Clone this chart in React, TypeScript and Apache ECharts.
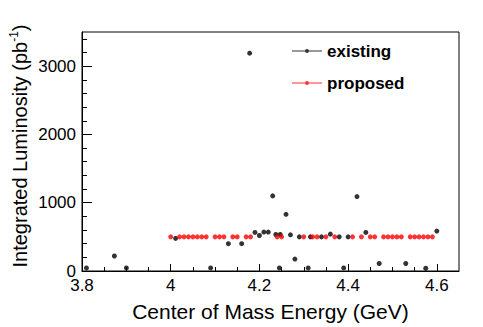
import React, { useEffect, useRef } from "react";
import * as echarts from "echarts";

const existingEnergy = [3.81, 3.873, 3.9, 4.011, 4.09, 4.13, 4.16, 4.178, 4.19, 4.2, 4.21, 4.22, 4.23, 4.237, 4.245, 4.247, 4.26, 4.27, 4.28, 4.29, 4.31, 4.315, 4.34, 4.36, 4.38, 4.39, 4.4, 4.42, 4.44, 4.47, 4.53, 4.575, 4.6];
const existingLumi = [45, 220, 45, 478, 45, 400, 400, 3190, 565, 520, 570, 570, 1100, 535, 45, 535, 830, 530, 175, 500, 45, 500, 500, 540, 500, 45, 500, 1090, 565, 110, 110, 40, 585];

const proposedEnergy = [4.0, 4.02, 4.03, 4.04, 4.05, 4.06, 4.07, 4.08, 4.1, 4.11, 4.12, 4.14, 4.15, 4.17, 4.18, 4.24, 4.25, 4.3, 4.32, 4.33, 4.35, 4.37, 4.41, 4.43, 4.45, 4.46, 4.48, 4.49, 4.5, 4.51, 4.52, 4.54, 4.55, 4.56, 4.57, 4.58, 4.59];
const proposedLumi = [500, 500, 500, 500, 500, 500, 500, 500, 500, 500, 500, 500, 500, 500, 500, 500, 500, 500, 500, 500, 500, 500, 500, 500, 500, 500, 500, 500, 500, 500, 500, 500, 500, 500, 500, 500, 500];

const xMajorTicks = [3.8, 4.0, 4.2, 4.4, 4.6];
const xMinorTicks = [3.85, 3.9, 3.95, 4.05, 4.1, 4.15, 4.25, 4.3, 4.35, 4.45, 4.5, 4.55];
const yMajorTicks = [0, 1000, 2000, 3000];
const yMinorTicks = [200, 400, 600, 800, 1200, 1400, 1600, 1800, 2200, 2400, 2600, 2800, 3200, 3400];

const seriesNames = ["existing", "proposed"];
const xTitle = "Center of Mass Energy (GeV)";

const FONT = "'Liberation Sans', Arial, Helvetica, sans-serif";
const X_MIN = 3.8;
const X_MAX = 4.65;
const Y_MIN = 0;
const Y_MAX = 3500;

export default function App() {
  const ref = useRef<HTMLDivElement>(null);
  useEffect(() => {
    if (!ref.current) return;
    const chart = echarts.init(ref.current, undefined, { renderer: "svg" });
    const legendIcon = "path://M0,1.5 H30 V2.5 H0 Z M13,2 A2,2 0 1 1 17,2 A2,2 0 1 1 13,2 Z";
    chart.setOption({
      animation: false,
      backgroundColor: "#fff",
      textStyle: { fontFamily: FONT },
      grid: {
        left: 82,
        right: 24,
        top: 32,
        bottom: 56,
        show: true,
        borderColor: "#000",
        borderWidth: 1,
        containLabel: false,
        outerBoundsMode: "none",
      },
      legend: {
        data: seriesNames,
        orient: "vertical",
        left: 292,
        top: 41,
        padding: 0,
        itemWidth: 30,
        itemHeight: 4,
        itemGap: 12,
        icon: legendIcon,
        textStyle: { fontSize: 17, fontWeight: "bold", color: "#000", lineHeight: 20, fontFamily: FONT },
      },
      xAxis: [
        {
          type: "value",
          min: X_MIN,
          max: X_MAX,
          position: "bottom",
          axisLine: { show: true, onZero: false, lineStyle: { color: "#000", width: 1 } },
          axisTick: { show: true, inside: true, length: 7, customValues: xMajorTicks, lineStyle: { color: "#000" } },
          axisLabel: {
            customValues: xMajorTicks,
            formatter: (v: number) => String(Math.round(v * 10) / 10),
            fontSize: 17,
            color: "#000",
            margin: 6,
            fontFamily: FONT,
          },
          splitLine: { show: false },
          name: xTitle,
          nameLocation: "middle",
          nameGap: 30,
          nameMoveOverlap: false,
          nameTextStyle: { fontSize: 21, color: "#000", fontFamily: FONT },
        },
        {
          type: "value",
          min: X_MIN,
          max: X_MAX,
          position: "bottom",
          offset: 0,
          axisLine: { show: false, onZero: false },
          axisTick: { show: true, inside: true, length: 4, customValues: xMinorTicks, lineStyle: { color: "#000" } },
          axisLabel: { show: false },
          splitLine: { show: false },
        },
      ],
      yAxis: [
        {
          type: "value",
          min: Y_MIN,
          max: Y_MAX,
          position: "left",
          axisLine: { show: true, onZero: false, lineStyle: { color: "#000", width: 1 } },
          axisTick: { show: true, inside: true, length: 10, customValues: yMajorTicks, lineStyle: { color: "#000" } },
          axisLabel: {
            customValues: yMajorTicks,
            formatter: (v: number) => String(Math.round(v)),
            fontSize: 17,
            color: "#000",
            margin: 6,
            fontFamily: FONT,
          },
          splitLine: { show: false },
          name: "Integrated Luminosity (pb{sup|-1})",
          nameLocation: "middle",
          nameGap: 50,
          nameMoveOverlap: false,
          nameTextStyle: {
            fontSize: 20,
            lineHeight: 24,
            color: "#000",
            fontFamily: FONT,
            padding: [0, 0, 0, 11],
            rich: {
              sup: { fontSize: 12, lineHeight: 12, verticalAlign: "top", color: "#000", fontFamily: FONT },
            },
          },
        },
        {
          type: "value",
          min: Y_MIN,
          max: Y_MAX,
          position: "left",
          offset: 0,
          axisLine: { show: false, onZero: false },
          axisTick: { show: true, inside: true, length: 5, customValues: yMinorTicks, lineStyle: { color: "#000" } },
          axisLabel: { show: false },
          splitLine: { show: false },
        },
      ],
      series: [
        {
          name: seriesNames[0],
          type: "scatter",
          xAxisIndex: 0,
          yAxisIndex: 0,
          symbol: "circle",
          symbolSize: 5,
          itemStyle: { color: "#000" },
          data: existingEnergy.map((e, i) => [e, existingLumi[i]]),
        },
        {
          name: seriesNames[1],
          type: "scatter",
          xAxisIndex: 0,
          yAxisIndex: 0,
          symbol: "circle",
          symbolSize: 5,
          itemStyle: { color: "#ff0000" },
          data: proposedEnergy.map((e, i) => [e, proposedLumi[i]]),
        },
      ],
    });
    return () => chart.dispose();
  }, []);
  return (
    <div
      ref={ref}
      style={{ position: "fixed", left: 0, top: 0, width: 483, height: 327, background: "#fff" }}
    />
  );
}
